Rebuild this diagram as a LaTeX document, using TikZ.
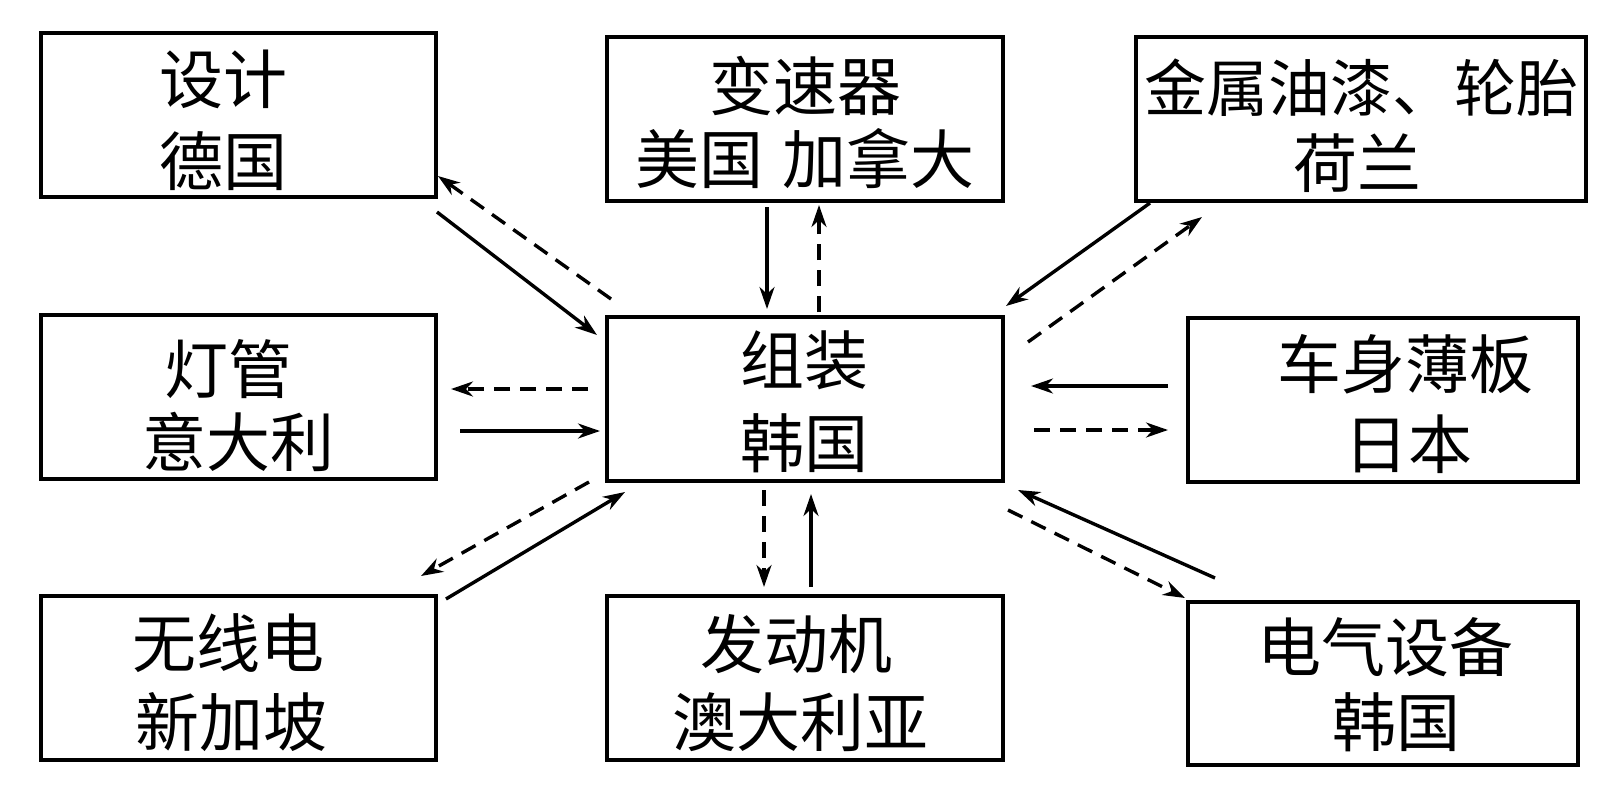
\documentclass[tikz,border=0pt]{standalone}
\usepackage{fontspec}
\newfontfamily\cjk{Noto Sans CJK SC}
\usetikzlibrary{arrows.meta}
\begin{document}
\begin{tikzpicture}[x=1pt,y=-1pt,
  box/.style={draw, line width=3.5pt, inner sep=0pt, minimum height=164pt},
  lbl/.style={anchor=base, inner sep=0pt, font=\cjk\fontsize{64}{64}\selectfont},
  flow/.style={line width=3.4pt, -{Stealth[length=22pt,width=15pt,inset=7pt]}},
  back/.style={flow, dash pattern=on 16pt off 10pt}]
\useasboundingbox (0,0) rectangle (1606,803);
% boxes
\node[box, minimum width=395pt] (b1) at (238.5,115) {};
\node[box, minimum width=396pt] (b2) at (805,119) {};
\node[box, minimum width=450pt] (b3) at (1361,119) {};
\node[box, minimum width=395pt] (b4) at (238.5,397) {};
\node[box, minimum width=396pt] (b5) at (805,399) {};
\node[box, minimum width=390pt] (b6) at (1383,400) {};
\node[box, minimum width=395pt] (b7) at (238.5,678) {};
\node[box, minimum width=396pt] (b8) at (805,678) {};
\node[box, minimum width=390pt, minimum height=163pt] (b9) at (1383,683.5) {};
% labels
\node[lbl] (t1a) at (223,103) {设计};
\node[lbl] (t1b) at (223,185) {德国};
\node[lbl] (t2a) at (805,110) {变速器};
\node[lbl] (t2b) at (805,183) {美国\hspace{20pt}加拿大};
\node[lbl, font=\cjk\fontsize{62}{62}\selectfont] (t3a) at (1361,111) {金属油漆、轮胎};
\node[lbl] (t3b) at (1357,187) {荷兰};
\node[lbl] (t4a) at (228,393) {灯管};
\node[lbl] (t4b) at (238,466) {意大利};
\node[lbl] (t5a) at (804,384) {组装};
\node[lbl] (t5b) at (804,467) {韩国};
\node[lbl] (t6a) at (1405,388) {车身薄板};
\node[lbl] (t6b) at (1408,468) {日本};
\node[lbl] (t7a) at (228,667) {无线电};
\node[lbl] (t7b) at (231,746) {新加坡};
\node[lbl] (t8a) at (796,668) {发动机};
\node[lbl] (t8b) at (800,746) {澳大利亚};
\node[lbl] (t9a) at (1385,671) {电气设备};
\node[lbl] (t9b) at (1396,746) {韩国};
% connector end points
\coordinate (a1s) at (437,212);  \coordinate (a1e) at (597,335);
\coordinate (a2s) at (611,299);  \coordinate (a2e) at (438,176);
\coordinate (a3s) at (767,207);  \coordinate (a3e) at (767,309);
\coordinate (a4s) at (819,312);  \coordinate (a4e) at (819,205);
\coordinate (a5s) at (1150,203); \coordinate (a5e) at (1006,306);
\coordinate (a6s) at (1028,342); \coordinate (a6e) at (1202,217);
\coordinate (a7s) at (588,389);  \coordinate (a7e) at (451,389);
\coordinate (a8s) at (460,431);  \coordinate (a8e) at (600,431);
\coordinate (a9s) at (589,482);  \coordinate (a9e) at (421,576);
\coordinate (a10s) at (446,599); \coordinate (a10e) at (625,492);
\coordinate (a11s) at (764,490); \coordinate (a11e) at (764,587);
\coordinate (a12s) at (811,587); \coordinate (a12e) at (811,494);
\coordinate (a13s) at (1168,386); \coordinate (a13e) at (1031,386);
\coordinate (a14s) at (1034,430); \coordinate (a14e) at (1168,430);
\coordinate (a15s) at (1215,578); \coordinate (a15e) at (1018,490);
\coordinate (a16s) at (1008,510); \coordinate (a16e) at (1185,598);
% connectors
\draw[flow] (a1s) -- (a1e);
\draw[back] (a2s) -- (a2e);
\draw[flow] (a3s) -- (a3e);
\draw[back] (a4s) -- (a4e);
\draw[flow] (a5s) -- (a5e);
\draw[back] (a6s) -- (a6e);
\draw[back] (a7s) -- (a7e);
\draw[flow] (a8s) -- (a8e);
\draw[back] (a9s) -- (a9e);
\draw[flow] (a10s) -- (a10e);
\draw[back] (a11s) -- (a11e);
\draw[flow] (a12s) -- (a12e);
\draw[flow] (a13s) -- (a13e);
\draw[back] (a14s) -- (a14e);
\draw[flow] (a15s) -- (a15e);
\draw[back] (a16s) -- (a16e);
\end{tikzpicture}
\end{document}
